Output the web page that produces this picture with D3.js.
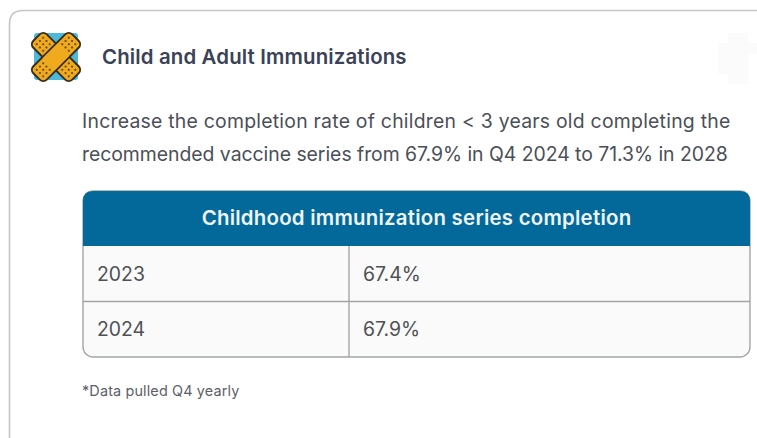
<!DOCTYPE html>
<html>
<head>
    <title>Child and Adult Immunizations</title>
    <script src="https://d3js.org/d3.v7.min.js"></script>
    <style>
        html, body { margin: 0; padding: 0; background: #fff; overflow: hidden; }
        text { font-family: Inter, 'Noto Sans', sans-serif; }
    </style>
</head>
<body>
    <svg id="card" width="757" height="438"></svg>

    <script>
        var cardTitle = "Child and Adult Immunizations";
        var goalLines = [
            "Increase the completion rate of children < 3 years old completing the",
            "recommended vaccine series from 67.9% in Q4 2024 to 71.3% in 2028"
        ];
        var tableTitle = "Childhood immunization series completion";
        var years = ["2023", "2024"];
        var rates = ["67.4%", "67.9%"];
        var footNote = "*Data pulled Q4 yearly";

        var svg = d3.select("#card");

        // card outline, runs off the right and bottom
        svg.append("path")
            .attr("d", "M9.5,438 V24 Q9.5,10.5 23,10.5 H757")
            .attr("fill", "none")
            .attr("stroke", "#c6c6c6")
            .attr("stroke-width", 1.6);

        // faint ghost shape top right
        svg.append("path")
            .attr("d", "M728,33 H748 V43 H757 V54 H748 V84 H728 V74 H718 V43 H728 Z")
            .attr("fill", "#fbfbfb");

        // bandage icon
        var icon = svg.append("g").attr("transform", "translate(56,57)");
        icon.append("rect")
            .attr("x", -22).attr("y", -24).attr("width", 44).attr("height", 47).attr("rx", 3)
            .attr("fill", "#4db8dc");

        [45, -45].forEach(function(angle) {
            var b = icon.append("g").attr("transform", "rotate(" + angle + ")");
            b.append("rect")
                .attr("x", -27.5).attr("y", -9.5).attr("width", 55).attr("height", 19).attr("rx", 5)
                .attr("fill", "#efaa1e")
                .attr("stroke", "#3a2f1e")
                .attr("stroke-width", 2);
            [-1, 1].forEach(function(side) {
                d3.range(3).forEach(function(i) {
                    d3.range(3).forEach(function(j) {
                        b.append("circle")
                            .attr("cx", side * (13.5 + i * 4.6))
                            .attr("cy", -4.6 + j * 4.6)
                            .attr("r", 1.1)
                            .attr("fill", "#6b4a14");
                    });
                });
            });
        });
        // plain middle of the top strip
        icon.append("rect")
            .attr("x", -10).attr("y", -8.5).attr("width", 20).attr("height", 17)
            .attr("transform", "rotate(-45)")
            .attr("fill", "#efaa1e");

        svg.append("text")
            .attr("x", 102).attr("y", 64)
            .attr("font-size", 20.4).attr("font-weight", 600)
            .attr("letter-spacing", 0.15)
            .attr("fill", "#3a4257")
            .text(cardTitle);

        var goalSpacing = [0.24, -0.03];
        svg.selectAll("text.goal")
            .data(goalLines)
            .enter().append("text")
            .attr("class", "goal")
            .attr("x", 82)
            .attr("y", function(d, i) { return 128 + i * 32.5; })
            .attr("font-size", 19.4)
            .attr("letter-spacing", function(d, i) { return goalSpacing[i]; })
            .attr("fill", "#4b4f57")
            .text(function(d) { return d; });

        // table
        var tableLeft = 83, tableRight = 750, tableTop = 191, headBottom = 246, tableBottom = 357, colX = 349;
        var rowScale = d3.scaleBand().domain(years).range([headBottom, tableBottom]);

        svg.append("rect")
            .attr("x", tableLeft).attr("y", tableTop)
            .attr("width", tableRight - tableLeft).attr("height", tableBottom - tableTop)
            .attr("rx", 10)
            .attr("fill", "#fafafa")
            .attr("stroke", "#a3a5a7")
            .attr("stroke-width", 1.4);

        svg.append("path")
            .attr("d", "M" + tableLeft + "," + headBottom + " V" + (tableTop + 10) +
                " Q" + tableLeft + "," + tableTop + " " + (tableLeft + 10) + "," + tableTop +
                " H" + (tableRight - 10) + " Q" + tableRight + "," + tableTop + " " + tableRight + "," + (tableTop + 10) +
                " V" + headBottom + " Z")
            .attr("fill", "#03699b");

        svg.append("text")
            .attr("x", (tableLeft + tableRight) / 2).attr("y", 225)
            .attr("text-anchor", "middle")
            .attr("font-size", 20.4).attr("font-weight", 600)
            .attr("letter-spacing", 0.25)
            .attr("fill", "#eef4f8")
            .text(tableTitle);

        svg.append("line")
            .attr("x1", colX).attr("x2", colX)
            .attr("y1", headBottom).attr("y2", tableBottom)
            .attr("stroke", "#a3a5a7").attr("stroke-width", 1.4);

        svg.append("line")
            .attr("x1", tableLeft).attr("x2", tableRight)
            .attr("y1", rowScale(years[1])).attr("y2", rowScale(years[1]))
            .attr("stroke", "#a3a5a7").attr("stroke-width", 1.4);

        svg.selectAll("text.year")
            .data(years)
            .enter().append("text")
            .attr("class", "year")
            .attr("x", 97)
            .attr("y", function(d) { return rowScale(d) + rowScale.bandwidth() / 2 + 7; })
            .attr("font-size", 19.4)
            .attr("fill", "#4f5154")
            .text(function(d) { return d; });

        svg.selectAll("text.rate")
            .data(rates)
            .enter().append("text")
            .attr("class", "rate")
            .attr("x", 363)
            .attr("y", function(d, i) { return rowScale(years[i]) + rowScale.bandwidth() / 2 + 7; })
            .attr("font-size", 19.4)
            .attr("fill", "#4f5154")
            .text(function(d) { return d; });

        svg.append("text")
            .attr("x", 82).attr("y", 396)
            .attr("font-size", 14.4)
            .attr("letter-spacing", 0.15)
            .attr("fill", "#5d6068")
            .text(footNote);
    </script>
</body>
</html>
